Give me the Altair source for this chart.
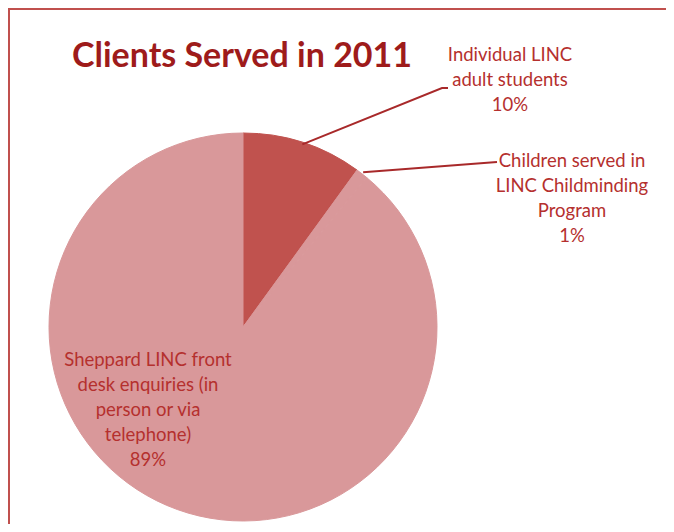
import math
import altair as alt
import pandas as pd

# ---- data ----
categories = [
    "Individual LINC adult students",
    "Children served in LINC Childminding Program",
    "Sheppard LINC front desk enquiries (in person or via telephone)",
]
shares = [10, 1, 89]
label_lines = [
    ["Individual LINC", "adult students", "10%"],
    ["Children served in", "LINC Childminding", "Program", "1%"],
    ["Sheppard LINC front", "desk enquiries (in", "person or via", "telephone)", "89%"],
]
title_text = "Clients Served in 2011"

# ---- layout / style (page pixels) ----
W, H = 658, 516
OFF = 8
CX, CY, R = 243, 327, 194
slice_colors = ["#C0524E", "#D9989A", "#D9989A"]
text_color = "#B5302E"
title_color = "#9E1B1B"
line_color = "#A8292A"
frame_color = "#C0504D"
font = "Lato"
label_font_size = 18.5
label_anchor = [(510, 61), (572, 167), (148, 366)]   # centre x, first baseline
line_step = 25
leader_end = [[(442, 88), (448, 88)], [(497, 162)], []]
leader_radius = [R - 2, R + 2, None]
title_pos = (72, 67)

total = sum(shares)
pie_df = pd.DataFrame({"cat": categories, "share": shares, "ord": range(len(shares))})

# label text rows
rows = []
for i, lines in enumerate(label_lines):
    ax, ay = label_anchor[i]
    for j, t in enumerate(lines):
        rows.append({"t": t, "x": ax - OFF, "y": ay + j * line_step - OFF})
lab_df = pd.DataFrame(rows)

# leader lines: start at the middle of each slice on the rim
seg = []
cum = 0
for i, s in enumerate(shares):
    mid = (cum + s / 2) / total * 2 * math.pi
    cum += s
    if leader_radius[i] is None:
        continue
    rr = leader_radius[i]
    pts = [(CX + rr * math.sin(mid), CY - rr * math.cos(mid))] + leader_end[i]
    for k, (px, py) in enumerate(pts):
        seg.append({"id": i, "k": k, "x": px - OFF, "y": py - OFF})
seg_df = pd.DataFrame(seg)

xs = alt.Scale(domain=[0, W], range=[0, W])
ys = alt.Scale(domain=[0, H], range=[0, H])
cscale = alt.Scale(domain=categories, range=slice_colors)

pie = alt.Chart(pie_df).mark_arc(outerRadius=R, strokeWidth=1).encode(
    theta=alt.Theta("share:Q", stack=True),
    order=alt.Order("ord:Q"),
    color=alt.Color("cat:N", scale=cscale, legend=None),
    stroke=alt.Stroke("cat:N", scale=cscale, legend=None),
    x=alt.value(CX - OFF),
    y=alt.value(CY - OFF),
)

leaders = alt.Chart(seg_df).mark_line(color=line_color, strokeWidth=2).encode(
    x=alt.X("x:Q", scale=xs, axis=None),
    y=alt.Y("y:Q", scale=ys, axis=None),
    detail="id:N",
    order="k:Q",
)

labels = alt.Chart(lab_df).mark_text(
    font=font, fontSize=label_font_size, color=text_color, align="center", baseline="alphabetic"
).encode(
    x=alt.X("x:Q", scale=xs, axis=None),
    y=alt.Y("y:Q", scale=ys, axis=None),
    text="t:N",
)

title = alt.Chart(pd.DataFrame({"t": [title_text], "x": [title_pos[0] - OFF], "y": [title_pos[1] - OFF]})).mark_text(
    font=font, fontSize=34, fontWeight="bold", color=title_color, align="left", baseline="alphabetic"
).encode(
    x=alt.X("x:Q", scale=xs, axis=None),
    y=alt.Y("y:Q", scale=ys, axis=None),
    text="t:N",
)

frame_df = pd.DataFrame({"x": [1, 1, W], "y": [H, 1, 1]})
frame = alt.Chart(frame_df).mark_line(color=frame_color, strokeWidth=2).encode(
    x=alt.X("x:Q", scale=xs, axis=None),
    y=alt.Y("y:Q", scale=ys, axis=None),
    order=alt.Order("y:Q", sort="descending"),
)

chart = alt.layer(frame, pie, leaders, labels, title).properties(
    width=W, height=H, padding=0, autosize=alt.AutoSizeParams(type="none")
).configure_view(stroke=None).configure(background="white")

chart.save("out.html", embed_options={"renderer": "svg", "actions": False})
